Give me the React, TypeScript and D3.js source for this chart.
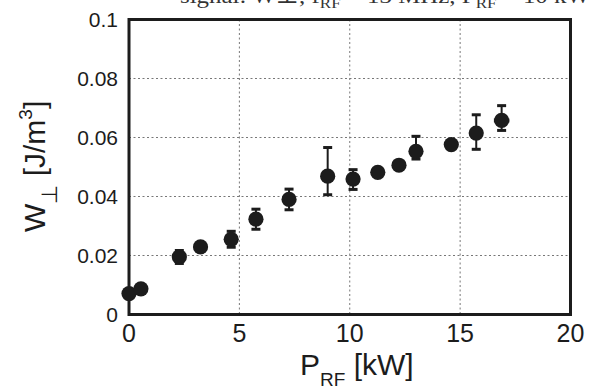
import React from "react";
import * as d3 from "d3";

const power = [0, 0.54, 2.28, 3.24, 4.63, 5.75, 7.25, 9.0, 10.15, 11.27, 12.23, 13.0, 14.6, 15.73, 16.88];
const energy = [0.0071, 0.0087, 0.0195, 0.0229, 0.0255, 0.0323, 0.039, 0.0469, 0.0459, 0.0482, 0.0506, 0.0553, 0.0576, 0.0615, 0.0658];
const errUp = [0, 0, 0.0022, 0, 0.0027, 0.0034, 0.0035, 0.0097, 0.0032, 0, 0, 0.0051, 0, 0.0062, 0.005];
const errDown = [0, 0, 0.0022, 0, 0.0027, 0.0034, 0.0035, 0.0063, 0.0035, 0, 0, 0.0026, 0, 0.0055, 0.0034];
const errX = [0, 0, 0, 0, 0, 0, 0, 0, 0, 0, 0, 0, 0, 0, 0.35];
const xTicks = [0, 5, 10, 15, 20];
const yTicks = [0, 0.02, 0.04, 0.06, 0.08, 0.1];
const yTickLabels = ["0", "0.02", "0.04", "0.06", "0.08", "0.1"];

const W = 596;
const H = 389;
const L = 129, R = 570.5, T = 19.5, B = 314.5;

export default function App() {
  const x = d3.scaleLinear().domain([0, 20]).range([L, R]);
  const y = d3.scaleLinear().domain([0, 0.1]).range([B, T]);
  const ink = "#1c1c1c";
  const sans = "'Liberation Sans', Arial, sans-serif";
  return (
    <svg width={W} height={H} style={{ position: "absolute", left: 0, top: 0, background: "#fff" }}>
      <rect width={W} height={H} fill="#fff" />
      <text x={180} y={3} fontFamily="'Liberation Serif', 'DejaVu Serif', serif" fontSize={22} fill="#333" textLength={410} lengthAdjust="spacingAndGlyphs">
        signal: W⊥, f<tspan fontSize={15} dy={5}>RF</tspan><tspan dy={-5}> = 13 MHz, P</tspan><tspan fontSize={15} dy={5}>RF</tspan><tspan dy={-5}> = 10 kW</tspan>
      </text>
      {xTicks.slice(1, -1).map((t) => (
        <line key={"gx" + t} x1={x(t)} x2={x(t)} y1={T} y2={B} stroke="#777" strokeWidth={1} strokeDasharray="2,2.5" />
      ))}
      {yTicks.slice(1, -1).map((t) => (
        <line key={"gy" + t} x1={L} x2={R} y1={y(t)} y2={y(t)} stroke="#777" strokeWidth={1} strokeDasharray="2,2.5" />
      ))}
      <rect x={L} y={T} width={R - L} height={B - T} fill="none" stroke={ink} strokeWidth={3} />
      {yTicks.map((t, i) => (
        <text key={"ty" + t} x={118} y={y(t)} dy="0.36em" textAnchor="end" fontFamily={sans} fontSize={21} fill={ink}>
          {yTickLabels[i]}
        </text>
      ))}
      {xTicks.map((t) => (
        <text key={"tx" + t} x={x(t)} y={342} textAnchor="middle" fontFamily={sans} fontSize={25} fill={ink}>
          {t}
        </text>
      ))}
      <text x={300} y={375} fontFamily={sans} fontSize={30} fill={ink}>
        P<tspan fontSize={19} dy={11}>RF</tspan><tspan dy={-11}> [kW]</tspan>
      </text>
      <text transform={`translate(45,232) rotate(-90)`} fontFamily={sans} fontSize={30} fill={ink}>
        W<tspan fontSize={22} dy={12}>⊥</tspan><tspan dy={-12}>  [J/m</tspan><tspan fontSize={19} dy={-13}>3</tspan><tspan dy={13}>]</tspan>
      </text>
      {power.map((p, i) => (
        <g key={"pt" + i}>
          {(errUp[i] > 0 || errDown[i] > 0) && (
            <g stroke={ink}>
              <line x1={x(p)} x2={x(p)} y1={y(energy[i] + errUp[i])} y2={y(energy[i] - errDown[i])} strokeWidth={2} />
              <line x1={x(p) - 4.5} x2={x(p) + 4.5} y1={y(energy[i] + errUp[i])} y2={y(energy[i] + errUp[i])} strokeWidth={3} />
              <line x1={x(p) - 4.5} x2={x(p) + 4.5} y1={y(energy[i] - errDown[i])} y2={y(energy[i] - errDown[i])} strokeWidth={3} />
            </g>
          )}
          {errX[i] > 0 && (
            <line x1={x(p - errX[i])} x2={x(p + errX[i])} y1={y(energy[i])} y2={y(energy[i])} stroke={ink} strokeWidth={4} />
          )}
          <circle cx={x(p)} cy={y(energy[i])} r={7.6} fill={ink} />
        </g>
      ))}
    </svg>
  );
}
